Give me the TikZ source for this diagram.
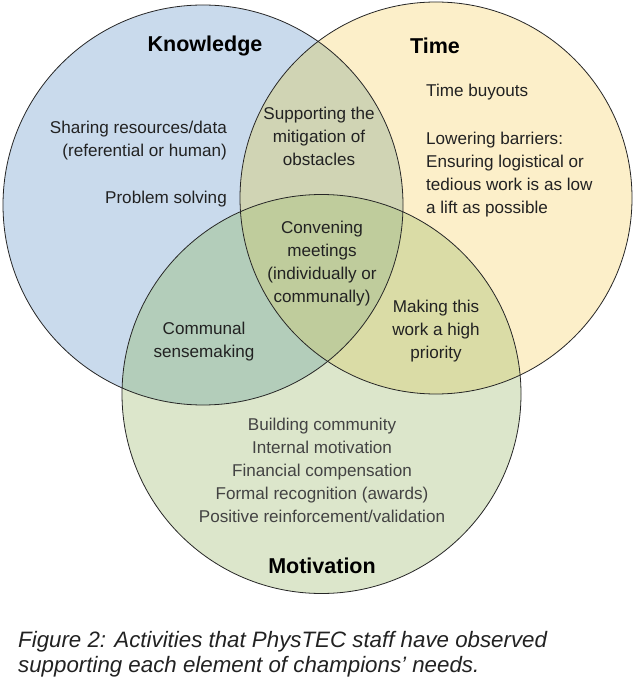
\documentclass[tikz,border=0pt]{standalone}
\usepackage{fontspec}
\setmainfont{Liberation Sans}
\definecolor{kcol}{HTML}{C9DAEC}
\definecolor{tcol}{HTML}{FCEFC9}
\definecolor{mcol}{HTML}{DCE6CB}
\definecolor{ktcol}{HTML}{D0D4B4}
\definecolor{kmcol}{HTML}{B3CDBA}
\definecolor{tmcol}{HTML}{DADCA6}
\definecolor{allcol}{HTML}{BFCC9C}
\definecolor{txt}{HTML}{222222}
\tikzset{
  body/.style={text=txt, font=\fontsize{17.1}{23}\selectfont, inner sep=0pt},
  title/.style={text=black, font=\fontsize{21.5}{26}\selectfont\bfseries, inner sep=0pt},
  rim/.style={draw=black!85, line width=0.8pt},
}
\begin{document}
\begin{tikzpicture}[x=1pt,y=-1pt]
\useasboundingbox[fill=white] (0,0) rectangle (638,684);
\def\KC{(203,205) circle[radius=200pt]}
\def\TC{(436,198) circle[radius=196pt]}
\def\MC{(321.5,394) circle[radius=199.5pt]}
\fill[kcol] \KC;
\fill[tcol] \TC;
\fill[mcol] \MC;
\begin{scope}\clip \KC; \fill[ktcol] \TC; \end{scope}
\begin{scope}\clip \KC; \fill[kmcol] \MC; \end{scope}
\begin{scope}\clip \TC; \fill[tmcol] \MC; \end{scope}
\begin{scope}\clip \KC; \clip \TC; \fill[allcol] \MC; \end{scope}
\draw[rim] \KC;
\draw[rim] \TC;
\draw[rim] \MC;
% titles
\node[title] (know) at (205,46) {Knowledge};
\node[title] (time) at (435,46) {Time};
\node[title] (moti) at (322,566) {Motivation};
% knowledge only
\node[body, align=right, anchor=east] (share) at (227,140.5) {Sharing resources/data\\(referential or human)};
\node[body, anchor=east] (prob) at (227,199) {Problem solving};
% K and T
\node[body, align=center] (supp) at (319,136) {Supporting the\\mitigation of\\obstacles};
% time only
\node[body, anchor=west] (buy) at (426,92) {Time buyouts};
\node[body, align=left, anchor=west] (lower) at (426,174.5) {Lowering barriers:\\Ensuring logistical or\\tedious work is as low\\a lift as possible};
% center
\node[body, align=center] (conv) at (322,263.5) {Convening\\meetings\\(individually or\\communally)};
% K and M
\node[body, align=center] (comm) at (204,341.5) {Communal\\sensemaking};
% T and M
\node[body, align=center] (make) at (436,331) {Making this\\work a high\\priority};
% M only
\node[body, align=center, text=txt!85] (mlist) at (322,470) {Building community\\Internal motivation\\Financial compensation\\Formal recognition (awards)\\Positive reinforcement/validation};
% caption
\node[inner sep=0pt, align=left, anchor=west, text=txt, font=\fontsize{22.3}{24.5}\selectfont\itshape] (cap) at (18,654) {Figure 2: Activities that PhysTEC staff have observed\\supporting each element of champions’ needs.};
\end{tikzpicture}
\end{document}
